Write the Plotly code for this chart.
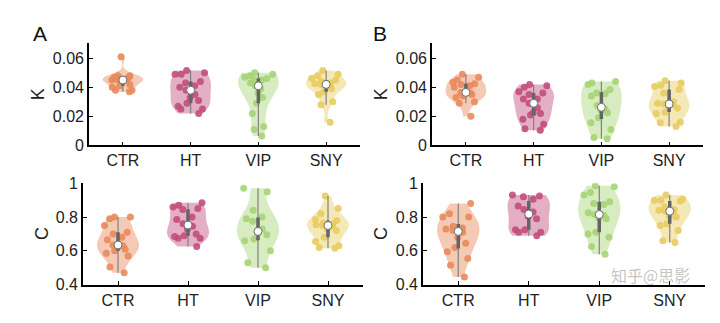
import numpy as np
import plotly.graph_objects as go

categories = ["CTR", "HT", "VIP", "SNY"]

# Panel A (K)
A_CTR = [0.061, 0.048, 0.048, 0.047, 0.047, 0.046, 0.046, 0.045, 0.045, 0.045, 0.044, 0.042, 0.041, 0.040, 0.038, 0.038, 0.037]
A_HT = [0.0515, 0.050, 0.049, 0.049, 0.044, 0.043, 0.041, 0.040, 0.038, 0.035, 0.033, 0.031, 0.029, 0.027, 0.025, 0.025, 0.022]
A_VIP = [0.050, 0.049, 0.048, 0.047, 0.046, 0.045, 0.045, 0.043, 0.041, 0.039, 0.036, 0.033, 0.029, 0.022, 0.013, 0.011, 0.0065]
A_SNY = [0.0515, 0.049, 0.048, 0.046, 0.045, 0.044, 0.043, 0.0425, 0.042, 0.041, 0.040, 0.039, 0.037, 0.035, 0.030, 0.028, 0.016]
# Panel B (K)
B_CTR = [0.049, 0.047, 0.045, 0.0435, 0.0425, 0.042, 0.041, 0.040, 0.0365, 0.036, 0.0355, 0.035, 0.034, 0.033, 0.030, 0.029, 0.020]
B_HT = [0.042, 0.041, 0.040, 0.037, 0.036, 0.035, 0.032, 0.032, 0.029, 0.026, 0.0225, 0.022, 0.021, 0.018, 0.0145, 0.0115, 0.0105]
B_VIP = [0.044, 0.043, 0.042, 0.0385, 0.036, 0.0355, 0.034, 0.0275, 0.025, 0.024, 0.0225, 0.019, 0.0155, 0.011, 0.0055, 0.0045]
B_SNY = [0.0445, 0.043, 0.0415, 0.0405, 0.0385, 0.036, 0.030, 0.029, 0.0285, 0.028, 0.027, 0.0255, 0.023, 0.022, 0.016, 0.0155, 0.013]
# Panel C (C)
C_CTR = [0.80, 0.80, 0.79, 0.75, 0.71, 0.70, 0.68, 0.665, 0.635, 0.63, 0.62, 0.61, 0.60, 0.585, 0.57, 0.505, 0.47]
C_HT = [0.885, 0.87, 0.86, 0.85, 0.845, 0.80, 0.785, 0.76, 0.745, 0.73, 0.70, 0.69, 0.685, 0.675, 0.675, 0.625]
C_VIP = [0.97, 0.95, 0.84, 0.80, 0.79, 0.775, 0.73, 0.70, 0.695, 0.67, 0.66, 0.60, 0.53, 0.50]
C_SNY = [0.925, 0.85, 0.82, 0.785, 0.78, 0.765, 0.76, 0.755, 0.75, 0.745, 0.73, 0.72, 0.68, 0.655, 0.63, 0.62, 0.615]
# Panel D (C)
D_CTR = [0.88, 0.82, 0.80, 0.80, 0.745, 0.735, 0.73, 0.72, 0.71, 0.68, 0.645, 0.62, 0.595, 0.555, 0.515, 0.445]
D_HT = [0.93, 0.925, 0.92, 0.905, 0.865, 0.845, 0.83, 0.805, 0.79, 0.725, 0.725, 0.71, 0.71, 0.69]
D_VIP = [0.985, 0.98, 0.945, 0.93, 0.89, 0.88, 0.875, 0.825, 0.815, 0.81, 0.795, 0.79, 0.71, 0.70, 0.68, 0.625, 0.58]
D_SNY = [0.93, 0.905, 0.90, 0.90, 0.895, 0.86, 0.845, 0.84, 0.835, 0.83, 0.805, 0.80, 0.76, 0.75, 0.72, 0.66, 0.65]

K_ticks = [0, 0.02, 0.04, 0.06]
K_ticktext = ["0", "0.02", "0.04", "0.06"]
C_ticks = [0.4, 0.6, 0.8, 1.0]
C_ticktext = ["0.4", "0.6", "0.8", "1"]

panels = [
    ("x", "y", [A_CTR, A_HT, A_VIP, A_SNY]),
    ("x2", "y2", [B_CTR, B_HT, B_VIP, B_SNY]),
    ("x3", "y3", [C_CTR, C_HT, C_VIP, C_SNY]),
    ("x4", "y4", [D_CTR, D_HT, D_VIP, D_SNY]),
]

point_colors = [(232, 138, 92), (194, 78, 124), (166, 212, 118), (232, 204, 96)]
fill_alpha = 0.45

FONT = "Liberation Sans, Arial, Helvetica, sans-serif"

fig = go.Figure()

for xa, ya, groups in panels:
    for cat, vals, col in zip(categories, groups, point_colors):
        r, g, b = col
        fig.add_trace(go.Violin(
            x=[cat] * len(vals), y=vals, xaxis=xa, yaxis=ya,
            fillcolor=f"rgba({r},{g},{b},{fill_alpha})",
            line=dict(width=0, color=f"rgba({r},{g},{b},0)"),
            points="all", pointpos=0, jitter=0.8,
            marker=dict(color=f"rgb({r},{g},{b})", size=7, opacity=0.9, line=dict(width=0)),
            width=0.6, spanmode="hard", scalemode="width",
            box_visible=False, meanline_visible=False,
            showlegend=False, hoverinfo="y",
        ))
    # box / whisker / median overlays computed from data
    wx, wy, bx, by, mx, my = [], [], [], [], [], []
    for cat, vals in zip(categories, groups):
        arr = np.asarray(vals)
        q1, med, q3 = np.percentile(arr, [25, 50, 75])
        iqr = q3 - q1
        lo = arr[arr >= q1 - 1.5 * iqr].min()
        hi = arr[arr <= q3 + 1.5 * iqr].max()
        wx += [cat, cat, None]; wy += [lo, hi, None]
        bx += [cat, cat, None]; by += [q1, q3, None]
        mx.append(cat); my.append(med)
    fig.add_trace(go.Scatter(x=wx, y=wy, xaxis=xa, yaxis=ya, mode="lines",
                             line=dict(color="rgb(128,128,128)", width=1.2),
                             showlegend=False, hoverinfo="skip"))
    fig.add_trace(go.Scatter(x=bx, y=by, xaxis=xa, yaxis=ya, mode="lines",
                             line=dict(color="rgb(100,100,100)", width=3.5),
                             showlegend=False, hoverinfo="skip"))
    fig.add_trace(go.Scatter(x=mx, y=my, xaxis=xa, yaxis=ya, mode="markers",
                             marker=dict(color="white", size=8, line=dict(color="rgb(110,110,110)", width=1)),
                             showlegend=False, hoverinfo="y"))

W, H = 720, 323
def px(x):
    return x / W
def py(y):
    return (H - y) / H

common_x = dict(type="category", categoryorder="array", categoryarray=categories,
                range=[-0.5, 3.5], showline=True, linecolor="black", linewidth=1.6,
                ticks="inside", ticklen=4, tickwidth=1, tickcolor="black",
                showgrid=False, zeroline=False,
                tickfont=dict(family=FONT, size=16, color="#222"))
common_y = dict(showline=True, linecolor="black", linewidth=1.6,
                ticks="inside", ticklen=4, tickwidth=1, tickcolor="black",
                showgrid=False, zeroline=False,
                tickfont=dict(family=FONT, size=16, color="#222"))

top_y = [py(145), py(37)]
bot_y = [py(292), py(185)]

fig.update_layout(
    width=W, height=H,
    margin=dict(l=0, r=0, t=0, b=0),
    paper_bgcolor="white", plot_bgcolor="white",
    font=dict(family=FONT, size=16, color="#222"),
    violinmode="overlay",
    xaxis=dict(common_x, domain=[px(89), px(360)], anchor="y"),
    yaxis=dict(common_y, domain=top_y, anchor="x", range=[0, 0.0705],
               tickvals=K_ticks, ticktext=K_ticktext),
    xaxis2=dict(common_x, domain=[px(432), px(703)], anchor="y2"),
    yaxis2=dict(common_y, domain=top_y, anchor="x2", range=[0, 0.0705],
                tickvals=K_ticks, ticktext=K_ticktext),
    xaxis3=dict(common_x, domain=[px(83), px(363)], anchor="y3"),
    yaxis3=dict(common_y, domain=bot_y, anchor="x3", range=[0.4, 1.0],
                tickvals=C_ticks, ticktext=C_ticktext),
    xaxis4=dict(common_x, domain=[px(423), px(705)], anchor="y4"),
    yaxis4=dict(common_y, domain=bot_y, anchor="x4", range=[0.4, 1.0],
                tickvals=C_ticks, ticktext=C_ticktext),
)

ann = []
for txt, x, y in [("K", 38, 91), ("K", 381, 91), ("C", 42, 238.5), ("C", 381, 238.5)]:
    ann.append(dict(text=txt, x=px(x), y=py(y), xref="paper", yref="paper",
                    showarrow=False, textangle=-90, xanchor="center", yanchor="middle",
                    font=dict(family=FONT, size=18, color="#222")))
for txt, x, y in [("A", 40, 27), ("B", 380, 27)]:
    ann.append(dict(text=txt, x=px(x), y=py(y), xref="paper", yref="paper",
                    showarrow=False, xanchor="center", yanchor="middle",
                    font=dict(family=FONT, size=21, color="#111")))
ann.append(dict(text="知乎@思影", x=px(650), y=py(282), xref="paper", yref="paper",
                showarrow=False, xanchor="center", yanchor="middle",
                font=dict(family="Noto Sans CJK SC", size=16, color="rgba(120,120,120,0.45)")))
fig.update_layout(annotations=ann)

fig.write_html("out.html")
